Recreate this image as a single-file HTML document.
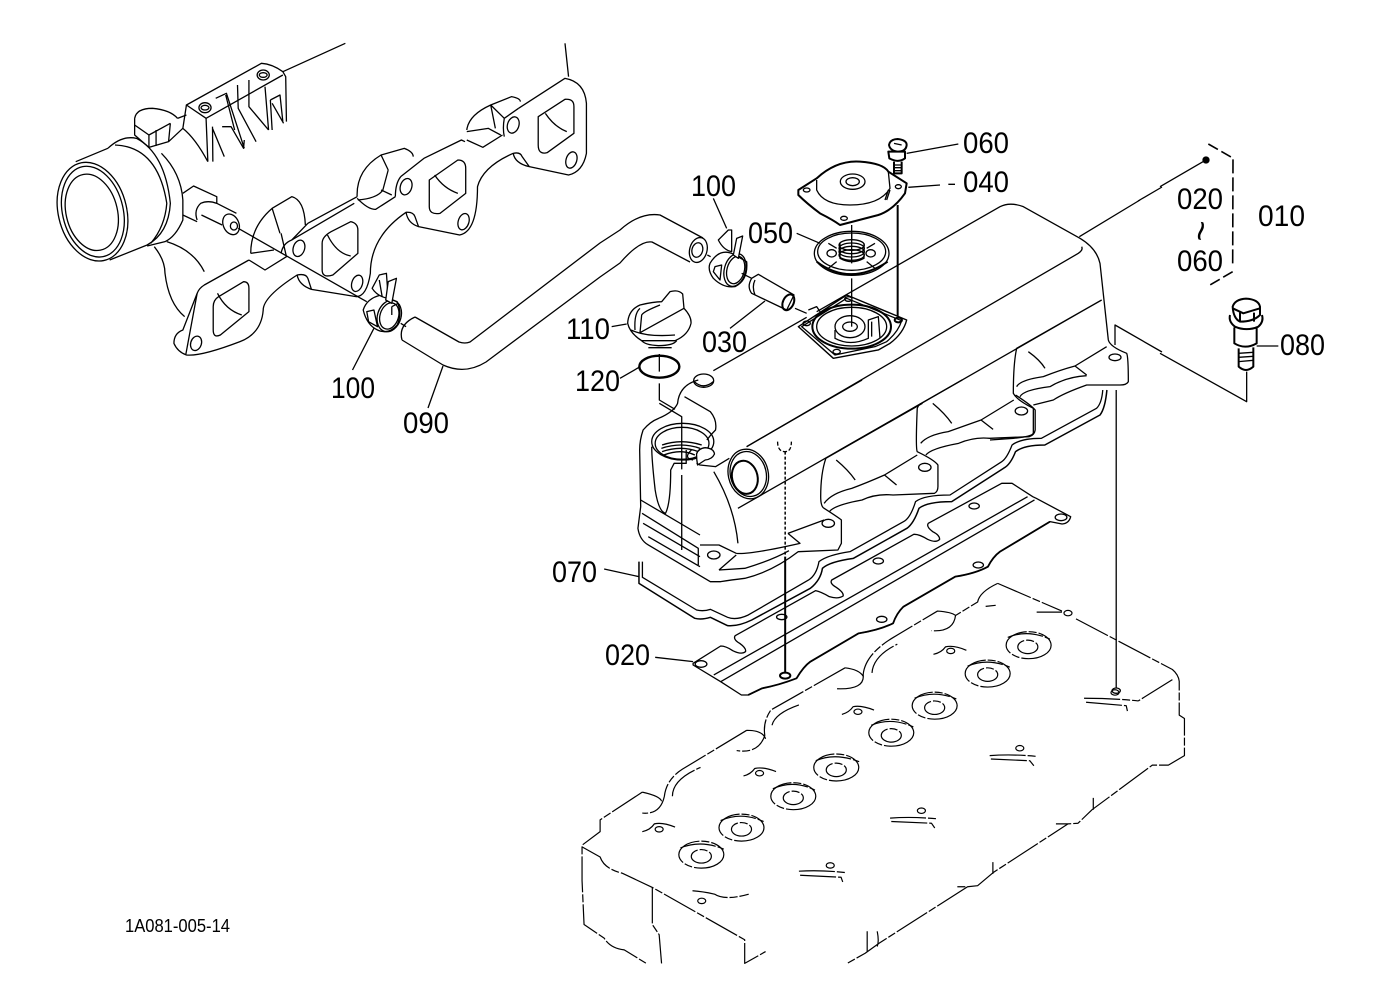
<!DOCTYPE html>
<html>
<head>
<meta charset="utf-8">
<style>
html,body{margin:0;padding:0;background:#fff}
svg{display:block}
path,ellipse,line{fill:none;stroke:#000;stroke-width:1.3;vector-effect:non-scaling-stroke;stroke-linejoin:round}
.t{stroke-width:2}
.d path,.d ellipse{stroke-dasharray:36 2 8 2;stroke-width:1.2}
.w{fill:#fff}
text{font-family:"Liberation Sans",sans-serif;font-size:30px;fill:#000;stroke:none}
</style>
</head>
<body>
<svg width="1379" height="1001" viewBox="0 0 1379 1001" xmlns="http://www.w3.org/2000/svg">
<rect width="1379" height="1001" fill="#fff"/>

<!-- Cylinder head (zoom 4 coordinates) -->
<g transform="translate(570,580) scale(0.4016,0.3378)" class="d">
<path d="M1065,10 L1225,92 M1260,115 L1500,265 Q1515,280 1517,300 L1517,400 L1530,410 L1530,520 L1490,548 L1450,548 L1300,680 L1265,720 L1240,722 M1210,722 L1240,722 L1055,865 L1015,905 L990,908 L960,908 M990,908 L770,1075 L735,1105 L690,1135"/>
<path d="M1065,10 Q1020,35 1015,65 L960,105 Q955,155 900,150 M960,105 Q950,95 915,92 L805,170 Q735,220 730,280 M752,275 Q755,225 815,190 M730,280 Q735,325 665,322 M685,260 Q720,265 730,285 M685,260 L500,385 Q480,420 485,460 Q470,515 415,505 M503,430 Q510,395 570,370 M440,445 Q480,445 487,470 M440,445 L280,560 Q240,590 235,640 Q225,695 180,690 M255,640 Q255,590 325,555 M180,628 Q225,640 228,655 M180,628 L75,710 L75,745 L30,785 L30,890 L35,1020 L85,1060 Q100,1090 135,1095 L190,1135"/>
<path d="M30,790 L75,820 Q85,855 130,868 L205,910 L435,1065 L435,1135 L487,1100 M205,910 L205,1020 L222,1050 L228,1135 M1303,645 L1303,680 M1053,835 L1053,870 M1500,295 L1415,358 M740,1040 L740,1100 M765,1040 Q770,1070 765,1085"/>
<path d="M1280,350 Q1350,350 1415,358 M1285,362 L1385,372 L1388,388 M1162,95 L1225,95 M1035,78 L1060,75"/>
<ellipse cx="1142" cy="193" rx="56" ry="40"/><ellipse cx="1140" cy="198" rx="25" ry="20"/>
<ellipse cx="1040" cy="277" rx="56" ry="40"/><ellipse cx="1040" cy="280" rx="25" ry="20"/>
<ellipse cx="908" cy="372" rx="56" ry="40"/><ellipse cx="908" cy="378" rx="25" ry="20"/>
<ellipse cx="800" cy="452" rx="56" ry="40"/><ellipse cx="800" cy="460" rx="25" ry="20"/>
<ellipse cx="663" cy="555" rx="56" ry="40"/><ellipse cx="663" cy="562" rx="25" ry="20"/>
<ellipse cx="556" cy="640" rx="56" ry="40"/><ellipse cx="556" cy="645" rx="25" ry="20"/>
<ellipse cx="427" cy="733" rx="56" ry="40"/><ellipse cx="427" cy="738" rx="25" ry="20"/>
<ellipse cx="327" cy="813" rx="56" ry="40"/><ellipse cx="327" cy="818" rx="25" ry="20"/>
<path d="M1090,170 Q1140,145 1195,175 M990,255 Q1040,230 1095,258 M858,350 Q908,325 962,352 M750,430 Q800,405 855,435 M612,535 Q660,510 720,538 M505,618 Q556,590 610,622 M375,712 Q427,685 482,715 M275,793 Q327,768 383,797"/>
<ellipse cx="948" cy="210" rx="10" ry="8" style="stroke-dasharray:none"/><ellipse cx="717" cy="390" rx="10" ry="8" style="stroke-dasharray:none"/><ellipse cx="472" cy="572" rx="10" ry="8" style="stroke-dasharray:none"/><ellipse cx="222" cy="738" rx="10" ry="8" style="stroke-dasharray:none"/><ellipse cx="328" cy="950" rx="10" ry="8" style="stroke-dasharray:none"/>
<ellipse cx="1120" cy="498" rx="10" ry="8" style="stroke-dasharray:none"/><ellipse cx="875" cy="683" rx="10" ry="8" style="stroke-dasharray:none"/><ellipse cx="648" cy="845" rx="10" ry="8" style="stroke-dasharray:none"/>
<ellipse cx="1357" cy="333" rx="10" ry="8" style="stroke-dasharray:none"/><ellipse cx="1240" cy="98" rx="10" ry="8" style="stroke-dasharray:none"/>
<path d="M905,220 Q925,215 935,198 Q955,192 987,208 M677,398 Q695,392 705,375 Q725,370 757,385 M432,580 Q450,575 460,558 Q480,552 513,567 M180,745 Q200,740 210,722 Q230,716 263,732 M305,920 Q330,922 360,930 Q385,950 445,930"/>
<path d="M1045,520 Q1100,515 1160,522 M1048,530 L1145,535 L1155,550 M797,705 Q850,700 915,707 M800,715 L900,720 L910,737 M570,862 Q625,858 685,866 M573,874 L675,880 L680,897"/>
</g>

<!-- Manifold (zoom 1 coordinates) -->
<g transform="translate(40,40) scale(0.35714,0.33333)">
<path d="M855,10 L680,95 M680,95 Q650,72 620,70 L410,195 L465,235 L680,105 M680,95 L688,110 L690,245"/>
<ellipse cx="625" cy="105" rx="17" ry="15"/><ellipse cx="625" cy="105" rx="11" ry="7"/>
<ellipse cx="462" cy="203" rx="17" ry="15"/><ellipse cx="462" cy="203" rx="11" ry="7"/>
<path d="M465,235 L470,365 M410,195 L400,265 Q435,295 470,365 M483,260 L484,365 M483,265 L516,350 M510,260 L535,260 L570,325 L572,300 M492,175 L522,160 L572,325 M520,165 L545,270 M553,135 L555,205 L605,305 M585,120 L585,200 L640,270 M645,180 L672,165 L680,245 M645,180 L650,270 M650,190 L682,250 M630,140 L640,270"/>
<path d="M265,235 Q270,205 315,205 Q365,210 385,235 M265,235 L265,285 L305,322 L360,305 L400,265 M265,255 L305,285 L365,250 M305,285 L305,322 M325,270 L325,318 M365,250 L360,305 M385,235 L410,225"/>
<ellipse cx="147" cy="515" rx="96" ry="150" transform="rotate(-12 147 515)"/>
<ellipse cx="148" cy="515" rx="85" ry="138" transform="rotate(-12 148 515)"/>
<ellipse cx="145" cy="517" rx="72" ry="116" transform="rotate(-12 145 517)"/>
<path d="M100,365 L190,325 M195,660 L300,615 M190,325 Q230,285 270,295 Q350,340 365,490 Q360,580 300,615 M210,315 Q330,320 355,490 Q350,560 310,610 M340,340 Q395,400 400,480 L400,540 Q380,590 350,605 L300,618"/>
<path d="M400,460 L430,438 L495,470 L495,490 M400,525 L440,545 M440,540 Q430,510 450,490 Q470,480 495,490 L550,520 M452,525 L510,555"/>
<ellipse cx="535" cy="553" rx="22" ry="32" transform="rotate(-20 535 553)"/><ellipse cx="543" cy="558" rx="10" ry="12"/>
<path d="M555,565 L890,770 L915,785 M1010,850 L1025,860"/>
<path d="M585,660 L460,735 Q445,745 440,760 L400,870 Q375,880 375,910 Q385,935 410,945 Q450,950 560,905 Q620,880 625,810 Q625,770 720,705 Q745,700 750,715 L760,748 L885,770 Q915,770 925,700 Q925,590 1025,517 Q1045,515 1050,530 L1060,560 L1175,585 Q1225,575 1225,440 Q1240,380 1325,340 Q1345,335 1350,350 L1370,380 L1480,405 Q1520,395 1530,340 L1530,190 Q1525,125 1470,115 L1340,205"/>
<path d="M1480,110 L1470,10 M705,600 L880,490 M1010,410 L1075,355 L1180,300 L1190,305 M1340,205 L1300,235 M705,600 Q680,610 675,640 M1010,410 Q995,430 995,470 M1300,235 Q1295,265 1300,290 M440,760 L408,945 M720,705 Q725,735 760,748 M1025,517 Q1030,550 1060,560 M1325,340 Q1330,370 1370,380"/>
<path d="M590,640 Q590,560 650,505 L705,470 Q740,480 743,555 M650,505 L672,580 M590,640 L655,630 M585,660 L630,690 L690,650 L675,580 M888,470 Q885,390 955,345 L1020,325 Q1045,335 1045,350 M955,345 L975,390 M888,475 Q920,510 940,508 L995,470 M955,450 L985,465 M975,390 L960,450 Q945,475 890,480 M1195,270 Q1200,225 1262,195 L1320,170 Q1345,175 1345,185 M1262,195 L1275,265 M1195,275 L1255,265 L1290,285 M1195,300 L1240,322 L1295,285 M1262,195 L1300,235 M320,620 Q350,660 350,700 Q360,790 405,830 M355,605 Q430,630 460,695 M750,550 L705,600 M888,470 L750,550"/>
<path d="M485,800 Q485,780 500,770 L570,725 Q585,725 585,745 L585,815 L505,885 Q485,895 485,870Z M497,760 Q520,810 565,825"/>
<path d="M790,610 Q790,590 815,575 L870,545 Q890,550 890,570 L890,640 L820,705 Q790,715 790,690Z M805,585 Q830,640 870,648"/>
<path d="M1090,420 L1170,360 Q1192,360 1192,385 L1192,460 L1120,520 Q1090,525 1090,500Z M1105,405 Q1130,445 1170,460"/>
<path d="M1395,230 L1470,178 Q1495,175 1495,200 L1495,280 L1420,338 Q1395,345 1395,315Z M1415,220 Q1440,260 1475,275"/>
<ellipse cx="725" cy="625" rx="16" ry="25" transform="rotate(15 725 625)"/><ellipse cx="888" cy="730" rx="15" ry="25" transform="rotate(15 888 730)"/><ellipse cx="1025" cy="440" rx="16" ry="25" transform="rotate(15 1025 440)"/><ellipse cx="1186" cy="545" rx="15" ry="25" transform="rotate(15 1186 545)"/><ellipse cx="1325" cy="255" rx="16" ry="25" transform="rotate(15 1325 255)"/><ellipse cx="1488" cy="360" rx="15" ry="25" transform="rotate(15 1488 360)"/><ellipse cx="437" cy="910" rx="15" ry="22" transform="rotate(15 437 910)"/>
<!-- lower clamp -->
<path class="w" d="M905,810 Q915,775 955,765 L1000,785 Q1015,820 1000,855 Q975,885 945,870 Q915,855 905,810Z"/>
<ellipse cx="978" cy="828" rx="33" ry="48" transform="rotate(15 978 828)"/><ellipse cx="978" cy="828" rx="26" ry="40" transform="rotate(15 978 828)"/>
<path class="w" d="M930,745 L950,705 L970,700 L975,775 Q945,770 930,745Z"/><path class="w" d="M975,725 L998,715 L985,790 L968,780Z"/>
<path d="M950,720 L958,770 M915,815 L935,810 L945,860 L920,845Z M985,800 L1003,790 M985,800 L985,825"/>
<path d="M935,865 L875,990"/>
</g>

<!-- Hose 090, original coordinates -->
<path d="M415,317 L459,342 Q465,344 470,342 L600,243 L620,230 Q640,212 660,215 L703,238" />
<path d="M402,340 Q398,325 415,317 M402,340 L443,365 Q465,375 486,362 L600,277 L620,263 Q640,240 652,242 L690,262"/>
<path d="M443,366 L428,408"/>
<!-- leader joins, original coordinates -->
<path d="M1138,201 L1162,187 M1115,345 L1115,325 L1162,352"/>

<!-- Upper parts (zoom 2 coordinates) -->
<g transform="translate(620,130) scale(0.33333)">
<ellipse cx="235" cy="360" rx="26" ry="38" transform="rotate(15 235 360)"/><ellipse cx="232" cy="360" rx="16" ry="22" transform="rotate(15 232 360)"/>
<path d="M280,205 L320,295 M525,535 L560,550 M435,513 L330,595 M530,310 L600,340 M860,70 L1015,42 M865,172 L960,165 M985,163 L1005,163 M262,375 L272,380"/>
<path class="w" d="M270,400 Q300,350 345,375 L380,395 Q385,450 345,470 Q310,475 280,445 Q262,420 270,400Z"/>
<ellipse cx="345" cy="420" rx="32" ry="50" transform="rotate(15 345 420)"/><ellipse cx="347" cy="420" rx="26" ry="42" transform="rotate(15 347 420)"/>
<path class="w" d="M300,325 L325,300 L335,300 L335,365 Q310,360 295,330Z"/><path class="w" d="M350,325 L368,318 L355,385 L340,375Z"/>
<path d="M285,410 L305,405 L300,450 L280,425Z M365,430 L395,445"/>
<path class="w" d="M395,445 L415,433 L522,495 L500,540 L395,490 Q380,470 395,445Z"/><ellipse cx="505" cy="517" rx="16" ry="25" transform="rotate(25 505 517)" class="t"/><path d="M405,450 Q395,470 405,495"/>

<!-- cap 040 -->
<path class="t" d="M535,180 L590,145 Q650,90 720,95 Q790,100 805,125 L860,160 L855,190 Q820,240 775,255 L660,285 Q640,270 600,250 Q560,220 535,195Z"/>
<path d="M590,150 L590,180 Q610,225 690,225 Q780,225 810,175 L805,125 M795,210 L805,180 M800,210 L810,180"/>
<ellipse cx="698" cy="155" rx="37" ry="23"/><ellipse cx="698" cy="155" rx="20" ry="12"/>
<ellipse cx="560" cy="180" rx="10" ry="6"/><ellipse cx="835" cy="170" rx="9" ry="6"/><ellipse cx="672" cy="265" rx="10" ry="6"/>
<!-- bolt 060 -->
<path class="t" d="M807,45 Q810,28 833,27 Q860,30 860,45 Q858,65 833,65 Q810,62 807,45Z M805,65 L855,65 L855,85 Q835,100 808,85Z M822,95 L822,130 L845,130 L845,95"/>
<path d="M820,105 L847,105 M820,113 L847,113 M820,122 L847,122 M822,40 L845,45"/>
<!-- vertical leaders -->
<path class="t" d="M833,225 L833,565"/>
<path d="M695,285 L695,330 M695,445 L695,590"/>
<!-- 050 -->
<ellipse cx="695" cy="370" rx="112" ry="66"/><ellipse cx="695" cy="365" rx="102" ry="56"/>
<path class="t" d="M590,395 Q690,470 803,395"/>
<ellipse cx="695" cy="345" rx="38" ry="16"/><ellipse cx="695" cy="355" rx="38" ry="16"/><ellipse cx="695" cy="365" rx="38" ry="16"/><ellipse cx="695" cy="375" rx="38" ry="16"/>
<path d="M660,340 L660,385 Q695,405 732,385 L732,340 M695,310 L695,400"/>
<ellipse cx="635" cy="370" rx="14" ry="11"/><ellipse cx="752" cy="370" rx="14" ry="11"/>
<path d="M625,340 L650,355 M765,340 L740,355 M625,415 L650,395 M765,415 L740,395"/>
<!-- cover rear -->
<path d="M280,722 L560,562 M590,545 L1140,230 Q1170,215 1210,230 L1380,325 Q1430,355 1440,400 L1465,630 Q1470,650 1520,670 Q1525,680 1525,755 Q1520,765 1500,765 L1400,765 Q1330,790 1300,810 L1240,825"/>
<!-- seat -->
<path class="w" d="M535,590 L680,495 L860,570 Q850,610 810,640 L775,660 L640,685 Z" style="stroke-width:1.4"/>
<path d="M545,590 L680,505 L845,572 Q835,605 800,635 L765,650 L645,675Z"/>
<ellipse cx="695" cy="590" rx="118" ry="66" class="t"/><ellipse cx="695" cy="590" rx="105" ry="58"/>
<ellipse cx="690" cy="590" rx="45" ry="33"/><ellipse cx="690" cy="590" rx="22" ry="14"/>
<path d="M645,600 L645,625 Q690,650 745,625 L745,570 L775,560 L780,625 M755,575 L755,620 M565,540 L590,530 L600,545"/>
<ellipse cx="560" cy="580" rx="11" ry="7"/><ellipse cx="835" cy="570" rx="11" ry="7" class="t"/><ellipse cx="685" cy="507" rx="11" ry="7"/><ellipse cx="650" cy="665" rx="11" ry="7"/>
<path d="M695,510 L695,590"/>

<path d="M380,950 L1375,370 Q1390,360 1385,350 M660,960 L1445,510 M1445,510 L1190,655 Q1180,700 1180,790 Q1190,810 1240,835 L1240,910 Q1235,920 1180,925 L1110,930"/>
<ellipse cx="1485" cy="682" rx="18" ry="10"/>
<path d="M1190,770 Q1200,750 1270,740 Q1320,720 1365,708 L1400,735 M1365,708 L1460,650 M1225,665 Q1260,690 1275,715 M1200,800 Q1210,780 1290,770 Q1340,740 1400,737"/>
<path d="M1378,320 L1560,210"/>
</g>

<!-- Filler cap, ring (zoom 6 coordinates) -->
<g transform="translate(560,280) scale(0.33333)">
<path class="w" d="M203,130 Q205,90 240,75 Q280,65 305,65 L330,35 Q355,28 368,42 L372,85 Q395,110 393,130 Q385,165 345,182 L245,182 Q210,160 203,130Z"/>
<path d="M240,158 L245,105 Q250,95 300,75 M240,158 L372,85 M225,150 Q222,100 240,85 M213,150 Q260,172 345,165 M245,182 Q255,195 295,197 Q340,197 350,182 M265,203 L335,203 M155,140 L200,132 M180,295 L237,262 M298,222 L298,275 M298,310 L298,360 L345,388"/>
<ellipse cx="298" cy="260" rx="60" ry="33" style="stroke-width:2.4"/>
<ellipse cx="431" cy="302" rx="30" ry="20"/><path d="M403,305 Q430,330 460,305"/>
</g>

<!-- Cover front, gaskets (zoom 3 coordinates) -->
<g transform="translate(600,380) scale(0.34483,0.33333)">
<path d="M115,210 Q115,180 125,150 Q145,125 170,115 Q215,95 225,70 Q230,15 285,0 M245,50 L320,95 Q340,120 335,150 Q320,165 310,180"/>
<ellipse cx="240" cy="185" rx="90" ry="55"/><ellipse cx="238" cy="190" rx="78" ry="48"/>
<path d="M180,195 Q235,175 295,195 M178,205 Q235,185 290,205 M180,215 Q235,195 285,215 M185,225 Q235,205 275,225"/>
<path d="M172,70 L237,110 L237,268 M237,285 L237,510"/>
<path class="w" d="M280,222 Q285,205 305,203 Q330,205 332,222 Q325,238 305,240 L283,255 Q280,240 280,222Z"/>
<path d="M265,210 Q240,235 270,240 M280,250 L290,255 L335,260 L375,235"/>
<path d="M115,210 L118,380 L110,445 Q115,480 140,495 L320,605 L350,605 Q380,600 420,595 Q500,575 575,515 L690,510 L700,490 L700,420 Q695,415 650,385 Q640,380 640,350 Q640,280 655,235 L935,70"/>
<path d="M118,360 L290,465 M122,400 L285,505 L285,555 M125,430 L290,530 M140,470 L290,560"/>
<ellipse cx="330" cy="525" rx="18" ry="12"/>
<path d="M290,495 L345,495 L395,520 M395,520 Q430,525 580,490 L545,460 M545,460 L650,420 M345,570 L395,525 M345,570 L420,565 Q500,540 548,512"/>
<path d="M330,275 Q390,380 400,490 M150,200 Q150,240 160,330 Q170,395 190,400 Q205,370 205,270 L215,250 L250,250 L250,210"/>
<ellipse cx="430" cy="282" rx="58" ry="75" transform="rotate(-12 430 282)"/><ellipse cx="430" cy="282" rx="52" ry="68" transform="rotate(-12 430 282)"/><ellipse cx="420" cy="292" rx="37" ry="50" transform="rotate(-12 420 292)" class="t"/>
<path d="M425,200 L760,0 M400,385 L1050,0"/>
<ellipse cx="662" cy="430" rx="18" ry="12"/><ellipse cx="942" cy="262" rx="18" ry="12"/><ellipse cx="1222" cy="93" rx="18" ry="12"/>
<path d="M650,370 Q670,340 730,325 Q770,310 825,285 L860,315 M825,285 L920,225 M685,240 Q720,270 740,300 M665,395 Q680,375 760,360 Q800,340 850,345 L970,340 Q980,335 980,320 L980,255 Q970,240 920,215 Q915,205 920,85 Q925,70 935,70"/>
<path d="M930,190 Q950,165 1010,155 Q1050,140 1105,120 L1140,148 M1105,120 L1200,60 M965,70 Q1000,100 1020,130 M945,225 Q960,205 1040,190 Q1085,170 1130,175 L1245,170 Q1260,165 1262,150 L1262,90 Q1250,75 1205,45"/>
<!-- gasket 070 -->
<path d="M113,545 L113,610 L275,715 Q295,720 320,712 L370,737 Q400,740 440,720 L610,625 Q640,600 645,565 Q665,545 735,535 L890,445 Q910,430 925,385 Q950,365 1020,365 L1170,265 Q1190,255 1205,215 Q1230,195 1290,195 L1450,105 Q1465,85 1470,30" style="stroke-width:1.5"/>
<path d="M123,545 L123,592 L280,690 Q300,695 320,688 L370,712 Q395,722 430,705 L605,600 Q628,585 635,545 Q660,525 725,515 L880,425 Q900,415 915,365 Q940,345 1015,345 L1165,245 Q1180,235 1195,195 Q1220,175 1280,175 L1440,85 Q1455,70 1458,30"/>
<!-- head gasket 020 -->
<path class="w" d="M270,850 L350,798 Q365,798 385,812 Q410,825 422,815 Q425,805 405,790 Q385,778 392,767 L625,632 Q640,635 665,650 Q690,658 705,648 Q708,638 685,622 Q665,610 672,600 L910,463 Q925,462 950,478 Q975,490 985,478 Q985,465 965,455 Q945,440 952,430 L1165,310 L1195,310 L1255,350 L1265,355 L1365,410 Q1360,430 1340,432 L1305,425 L1160,515 Q1140,530 1125,560 Q1090,580 1030,590 L880,680 Q860,700 850,730 Q810,750 750,760 L610,845 Q590,860 570,895 Q520,915 470,925 L430,945 L410,945 L350,905 L270,855 Z"/>
<path class="t" d="M1305,425 L1160,515 Q1140,530 1125,560 Q1090,580 1030,590 L880,680 Q860,700 850,730 Q810,750 750,760 L610,845 Q590,860 570,895 Q520,915 470,925 L430,945" style="stroke-width:1.8"/>
<path d="M330,885 L1240,350 M350,905 L1260,360"/>
<ellipse cx="293" cy="852" rx="17" ry="10"/><ellipse cx="1337" cy="412" rx="17" ry="10"/><ellipse cx="537" cy="887" rx="15" ry="9" class="t"/><ellipse cx="527" cy="711" rx="15" ry="8"/><ellipse cx="817" cy="718" rx="15" ry="9"/><ellipse cx="807" cy="543" rx="15" ry="9"/><ellipse cx="1097" cy="555" rx="15" ry="9"/><ellipse cx="1085" cy="378" rx="15" ry="9"/>
<!-- leaders -->
<path d="M537,215 L537,530" style="stroke-dasharray:3 2;stroke-width:1.5"/>
<path class="t" d="M537,530 L537,880"/>
<path style="stroke-dasharray:4 2" d="M515,185 Q515,215 537,215 Q555,215 555,185"/>
<path d="M1497,30 L1497,925 M12,567 L113,590 M160,832 L270,845"/>
<ellipse cx="1497" cy="932" rx="12" ry="8"/>
</g>

<!-- Bracket and bolt 080 (zoom 5 coordinates) -->
<g transform="translate(1160,140) scale(0.33333)">
<path d="M145,12 L220,55" style="stroke-dasharray:11 4;stroke-width:1.6"/>
<path d="M219,58 L218,380" style="stroke-dasharray:14 4;stroke-width:1.6"/>
<path d="M218,395 L150,435" style="stroke-dasharray:11 4;stroke-width:1.6"/>
<path d="M0,140 L138,60"/>
<ellipse cx="138" cy="60" rx="9" ry="9" style="fill:#000"/>
<path d="M0,640 L260,785 L260,695 M290,618 L355,618"/>
<path class="t" d="M218,500 Q225,478 258,476 Q295,478 300,500 L300,525 Q280,545 240,545 Q220,535 218,500Z M218,505 L250,520 L300,505 M240,518 L240,545 M282,518 L282,545"/>
<path class="t" d="M210,525 Q205,545 225,560 Q260,575 295,560 Q312,545 306,525 M223,562 L223,610 Q255,630 290,610 L290,562 M236,625 L236,680 Q258,700 280,680 L280,622"/>
<path d="M236,640 L280,637 M236,652 L280,649 M236,665 L280,661"/>
</g>

<!-- Labels -->
<text x="331" y="398" textLength="44" lengthAdjust="spacingAndGlyphs">100</text>
<text x="403" y="433" textLength="46" lengthAdjust="spacingAndGlyphs">090</text>
<text x="691" y="196" textLength="45" lengthAdjust="spacingAndGlyphs">100</text>
<text x="566" y="339" textLength="44" lengthAdjust="spacingAndGlyphs">110</text>
<text x="575" y="391" textLength="45" lengthAdjust="spacingAndGlyphs">120</text>
<text x="702" y="352" textLength="45" lengthAdjust="spacingAndGlyphs">030</text>
<text x="748" y="243" textLength="45" lengthAdjust="spacingAndGlyphs">050</text>
<text x="963" y="153" textLength="46" lengthAdjust="spacingAndGlyphs">060</text>
<text x="963" y="192" textLength="46" lengthAdjust="spacingAndGlyphs">040</text>
<text x="1258" y="226" textLength="47" lengthAdjust="spacingAndGlyphs">010</text>
<text x="1177" y="209" textLength="46" lengthAdjust="spacingAndGlyphs">020</text>
<text x="1177" y="271" textLength="46" lengthAdjust="spacingAndGlyphs">060</text>
<text x="1280" y="355" textLength="45" lengthAdjust="spacingAndGlyphs">080</text>
<text x="552" y="582" textLength="45" lengthAdjust="spacingAndGlyphs">070</text>
<text x="605" y="665" textLength="45" lengthAdjust="spacingAndGlyphs">020</text>
<text transform="translate(1201,231) rotate(100)" text-anchor="middle" y="12" style="font-size:36px">~</text>
<text x="125" y="932" style="font-size:18px" textLength="105" lengthAdjust="spacingAndGlyphs">1A081-005-14</text>
</svg>
</body>
</html>
